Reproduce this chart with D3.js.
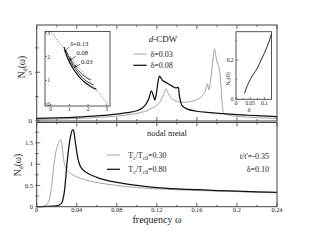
<!DOCTYPE html>
<html>
<head>
<meta charset="utf-8">
<script src="https://cdn.jsdelivr.net/npm/d3@7/dist/d3.min.js"></script>
<style>
  body { margin: 0; background: #fff; }
  svg { display: block; }
  text { font-family: "Liberation Serif", "DejaVu Serif", serif; fill: #222; }
</style>
</head>
<body>
<script>
// ---- data ----
const freqTicks = [0, 0.04, 0.08, 0.12, 0.16, 0.2, 0.24];
const topYTicks = [0, 5];
const botYTicks = [0, 0.5, 1, 1.5];

// upper panel: d-CDW, [omega, N_d]
const cdw003 = [[0,0.15],[0.02,0.2],[0.04,0.26],[0.06,0.36],[0.08,0.5],[0.09,0.62],[0.1,0.78],[0.105,0.9],
  [0.11,1.05],[0.115,1.3],[0.12,1.6],[0.124,2.1],[0.127,2.8],[0.129,3.3],[0.131,2.9],[0.134,2.4],[0.138,2.1],
  [0.142,1.95],[0.148,1.92],[0.154,2.0],[0.16,2.2],[0.165,2.55],[0.168,2.95],[0.1705,3.8],[0.172,3.2],
  [0.174,4.5],[0.176,6.3],[0.1775,7.4],[0.179,6.6],[0.181,5.8],[0.1825,5.3],[0.184,3.6],[0.1855,1.5],
  [0.187,0.8],[0.19,0.62],[0.2,0.48],[0.21,0.4],[0.22,0.34],[0.23,0.3],[0.24,0.26]];
const cdw008 = [[0,0.27],[0.02,0.32],[0.04,0.4],[0.06,0.52],[0.08,0.7],[0.09,0.85],[0.1,1.05],[0.105,1.3],
  [0.109,1.7],[0.112,2.3],[0.1145,3.1],[0.1165,2.6],[0.118,2.15],[0.1195,2.8],[0.121,3.9],[0.1225,4.6],
  [0.125,4.25],[0.13,3.9],[0.135,3.6],[0.139,3.4],[0.1415,3.45],[0.1425,2.6],[0.1435,2.1],[0.145,1.6],
  [0.15,1.25],[0.16,1.0],[0.17,0.88],[0.18,0.8],[0.19,0.72],[0.2,0.65],[0.21,0.59],[0.22,0.54],[0.23,0.49],[0.24,0.45]];

// lower panel: nodal metal
const nodal030 = [[0,0],[0.005,0.005],[0.009,0.03],[0.011,0.08],[0.013,0.2],[0.015,0.5],[0.017,0.95],
  [0.019,1.27],[0.021,1.45],[0.023,1.56],[0.024,1.58],[0.025,1.5],[0.026,1.3],[0.027,1.1],[0.029,0.92],
  [0.032,0.82],[0.036,0.75],[0.04,0.7],[0.05,0.62],[0.06,0.57],[0.08,0.5],[0.1,0.45],[0.12,0.42],
  [0.14,0.4],[0.16,0.38],[0.18,0.37],[0.2,0.355],[0.22,0.34],[0.24,0.33]];
const nodal080 = [[0,0],[0.01,0.005],[0.02,0.02],[0.024,0.06],[0.026,0.15],[0.028,0.42],[0.03,0.96],
  [0.032,1.38],[0.034,1.68],[0.036,1.81],[0.037,1.78],[0.038,1.62],[0.039,1.45],[0.041,1.15],[0.043,0.98],
  [0.046,0.87],[0.05,0.8],[0.06,0.69],[0.08,0.57],[0.1,0.5],[0.12,0.45],[0.14,0.42],[0.16,0.4],
  [0.18,0.38],[0.2,0.365],[0.22,0.35],[0.24,0.335]];

// left inset
const insetTicks = [0, 1, 2, 3];
const insetDiag = [[0,3.05],[3.05,0]];
const inset013 = [[0.72,2.4],[0.85,2.05],[1.0,1.78],[1.2,1.5],[1.4,1.27],[1.6,1.08],[1.8,0.93],[2.0,0.81],[2.2,0.71],[2.45,0.62]];
const inset008 = [[0.82,2.25],[1.0,1.92],[1.2,1.62],[1.4,1.4],[1.6,1.2],[1.8,1.04],[2.0,0.92],[2.3,0.8]];
const inset003 = [[1.0,2.0],[1.2,1.72],[1.4,1.5],[1.6,1.32],[1.8,1.18],[2.0,1.08],[2.15,1.02]];
const insetLabels = [
  { text: "δ=0.13", at: [1.03, 2.47], from: [1.0, 2.42], to: [0.74, 2.2] },
  { text: "0.08",   at: [1.38, 2.05], from: [1.34, 2.02], to: [1.0, 1.84] },
  { text: "0.03",   at: [1.62, 1.68], from: [1.58, 1.68], to: [1.27, 1.56] }
];

// right inset: N_d(0) vs doping
const nd0 = [[0.03,0.03],[0.04,0.07],[0.05,0.1],[0.06,0.125],[0.075,0.158],[0.09,0.205],[0.1,0.235],[0.11,0.27],[0.12,0.31],[0.125,0.335]];

// ---- drawing ----
const W = 314, H = 243;
const GRAY = "#9a9a9a", FRAME = "#444";
const svg = d3.select("body").append("svg").attr("width", W).attr("height", H);

const x = d3.scaleLinear().domain([0, 0.24]).range([36.7, 277]);
const yTop = d3.scaleLinear().domain([0, 9.85]).range([121, 25]);
const yBot = d3.scaleLinear().domain([0, 1.98]).range([206.7, 122.5]);

function frame(g, x0, x1, y0, y1, w) {
  g.append("rect").attr("x", x0).attr("y", y0).attr("width", x1 - x0).attr("height", y1 - y0)
    .attr("fill", "none").attr("stroke", FRAME).attr("stroke-width", w || 1);
}

function xTicks(g, sx, yEdge, dir, major, minor) {
  d3.range(0, 0.2401, 0.02).forEach(v => {
    const isMajor = Math.abs(v / 0.04 - Math.round(v / 0.04)) < 1e-6;
    const len = isMajor ? major : minor;
    g.append("line").attr("x1", sx(v)).attr("x2", sx(v))
      .attr("y1", yEdge).attr("y2", yEdge + dir * len)
      .attr("stroke", FRAME).attr("stroke-width", 0.8);
  });
}

function yTicks(g, sy, step, max, xEdge) {
  d3.range(0, max + 1e-9, step / 2).forEach((v, i) => {
    const len = i % 2 === 0 ? 3.5 : 2;
    g.append("line").attr("x1", xEdge - 1.5).attr("x2", xEdge + len)
      .attr("y1", sy(v)).attr("y2", sy(v))
      .attr("stroke", FRAME).attr("stroke-width", 0.8);
  });
}

const lineTop = d3.line().x(d => x(d[0])).y(d => yTop(d[1])).curve(d3.curveMonotoneX);
const lineBot = d3.line().x(d => x(d[0])).y(d => yBot(d[1])).curve(d3.curveMonotoneX);

// upper panel
const upper = svg.append("g");
upper.append("path").datum(cdw003).attr("d", lineTop).attr("fill", "none").attr("stroke", GRAY).attr("stroke-width", 0.9);
upper.append("path").datum(cdw008).attr("d", lineTop).attr("fill", "none").attr("stroke", "#111").attr("stroke-width", 1.25);
frame(upper, 36.7, 277, 25, 121);
xTicks(upper, x, 121, -1, 4, 2);
xTicks(upper, x, 25, 1, 4, 2);
yTicks(upper, yTop, 5, 9.85, 36.7);
topYTicks.forEach(v => upper.append("text").attr("x", 32).attr("y", yTop(v) + 2.3)
  .attr("text-anchor", "end").attr("font-size", 7).text(v));

// lower panel
const lower = svg.append("g");
lower.append("path").datum(nodal030).attr("d", lineBot).attr("fill", "none").attr("stroke", GRAY).attr("stroke-width", 0.9);
lower.append("path").datum(nodal080).attr("d", lineBot).attr("fill", "none").attr("stroke", "#111").attr("stroke-width", 1.25);
frame(lower, 36.7, 277, 122.5, 206.7);
xTicks(lower, x, 206.7, -1, 4, 2);
xTicks(lower, x, 122.5, 1, 4, 2);
yTicks(lower, yBot, 0.5, 1.98, 36.7);
botYTicks.forEach(v => lower.append("text").attr("x", 33).attr("y", yBot(v) + 2.3)
  .attr("text-anchor", "end").attr("font-size", 6.5).text(v));
freqTicks.forEach(v => lower.append("text").attr("x", x(v)).attr("y", 212)
  .attr("text-anchor", "middle").attr("font-size", 6.3).text(v));
lower.append("text").attr("x", 157).attr("y", 222.5).attr("text-anchor", "middle")
  .attr("font-size", 10).text("frequency ω");

// y labels N_d(ω)
function ndLabel(cx, cy, size) {
  const t = svg.append("text").attr("transform", `translate(${cx},${cy}) rotate(-90)`)
    .attr("text-anchor", "middle").attr("font-size", size);
  t.append("tspan").text("N");
  t.append("tspan").attr("font-size", size * 0.65).attr("dy", size * 0.25).text("d");
  t.append("tspan").attr("dy", -size * 0.25).text("(ω)");
}
ndLabel(25, 67, 9.5);
ndLabel(21, 165, 9.5);

// upper legend
svg.append("text").attr("x", 163).attr("y", 42).attr("text-anchor", "middle")
  .attr("font-size", 9).attr("font-family", "Liberation Sans, Arial, sans-serif")
  .call(t => { t.append("tspan").attr("font-style", "italic").text("d"); t.append("tspan").text("-CDW"); });
[[GRAY, 0.9, "δ=0.03", 54], ["#111", 1.25, "δ=0.08", 65.3]].forEach(([c, w, label, yy]) => {
  svg.append("line").attr("x1", 133.3).attr("x2", 146.7).attr("y1", yy).attr("y2", yy)
    .attr("stroke", c).attr("stroke-width", w);
  svg.append("text").attr("x", 150.5).attr("y", yy + 3).attr("font-size", 8).text(label);
});

// lower legend
svg.append("text").attr("x", 167).attr("y", 135.5).attr("text-anchor", "middle").attr("font-size", 8.5).text("nodal metal");
[[GRAY, 0.9, "0.30", 155], ["#111", 1.25, "0.80", 169.3]].forEach(([c, w, val, yy]) => {
  svg.append("line").attr("x1", 107).attr("x2", 120).attr("y1", yy).attr("y2", yy)
    .attr("stroke", c).attr("stroke-width", w);
  const t = svg.append("text").attr("x", 128.3).attr("y", yy + 3).attr("font-size", 8);
  t.append("tspan").text("T");
  t.append("tspan").attr("font-size", 5.5).attr("dy", 1.8).text("c");
  t.append("tspan").attr("dy", -1.8).text("/T");
  t.append("tspan").attr("font-size", 5.5).attr("dy", 1.8).text("c0");
  t.append("tspan").attr("dy", -1.8).text("=" + val);
});
svg.append("text").attr("x", 269).attr("y", 159).attr("text-anchor", "end").attr("font-size", 8).text("t/t'=-0.35");
svg.append("text").attr("x", 269).attr("y", 171.5).attr("text-anchor", "end").attr("font-size", 8).text("δ=0.10");

// left inset
const ix = d3.scaleLinear().domain([0, 3]).range([50.7, 106.7]);
const iy = d3.scaleLinear().domain([0, 3]).range([104, 33]);
const ins = svg.append("g");
ins.append("rect").attr("x", 45).attr("y", 31.5).attr("width", 65).attr("height", 74.5).attr("fill", "#fff");
const iline = d3.line().x(d => ix(d[0])).y(d => iy(d[1])).curve(d3.curveMonotoneX);
ins.append("path").datum(insetDiag).attr("d", d3.line().x(d => ix(d[0])).y(d => iy(d[1])))
  .attr("stroke", "#333").attr("stroke-width", 0.8).attr("stroke-dasharray", "0.8,1.6").attr("fill", "none");
ins.append("path").datum(inset003).attr("d", iline).attr("fill", "none").attr("stroke", "#222").attr("stroke-width", 0.8);
ins.append("path").datum(inset008).attr("d", iline).attr("fill", "none").attr("stroke", "#222").attr("stroke-width", 0.9);
ins.append("path").datum(inset013).attr("d", iline).attr("fill", "none").attr("stroke", "#111").attr("stroke-width", 1.2);
frame(ins, 45, 110, 31.5, 106, 0.9);
insetTicks.forEach(v => {
  ins.append("line").attr("x1", ix(v)).attr("x2", ix(v)).attr("y1", 106).attr("y2", 104).attr("stroke", FRAME).attr("stroke-width", 0.7);
  ins.append("line").attr("x1", 45).attr("x2", 47).attr("y1", iy(v)).attr("y2", iy(v)).attr("stroke", FRAME).attr("stroke-width", 0.7);
  ins.append("text").attr("x", ix(v)).attr("y", 110.8).attr("text-anchor", "middle").attr("font-size", 5.5).text(v);
  ins.append("text").attr("x", 48.5).attr("y", iy(v) + 1.9).attr("text-anchor", "middle").attr("font-size", 5.5).text(v);
});
svg.append("defs").append("marker").attr("id", "ah").attr("viewBox", "0 0 10 10")
  .attr("refX", 9).attr("refY", 5).attr("markerWidth", 4).attr("markerHeight", 4).attr("orient", "auto")
  .append("path").attr("d", "M0,0L10,5L0,10z").attr("fill", "#111");
insetLabels.forEach(l => {
  ins.append("text").attr("x", ix(l.at[0])).attr("y", iy(l.at[1])).attr("font-size", 6.6).text(l.text);
  ins.append("line").attr("x1", ix(l.from[0])).attr("y1", iy(l.from[1]))
    .attr("x2", ix(l.to[0])).attr("y2", iy(l.to[1]))
    .attr("stroke", "#111").attr("stroke-width", 0.6).attr("marker-end", "url(#ah)");
});

// right inset
const rx = d3.scaleLinear().domain([0, 0.125]).range([236, 271.5]);
const ry = d3.scaleLinear().domain([0, 0.344]).range([99.3, 31.7]);
const rin = svg.append("g");
rin.append("rect").attr("x", 236).attr("y", 31.7).attr("width", 35.5).attr("height", 67.6).attr("fill", "#fff");
rin.append("path").datum(nd0).attr("d", d3.line().x(d => rx(d[0])).y(d => ry(d[1])).curve(d3.curveMonotoneX))
  .attr("fill", "none").attr("stroke", "#111").attr("stroke-width", 0.9);
frame(rin, 236, 271.5, 31.7, 99.3, 0.9);
d3.range(0, 0.1251, 0.025).forEach((v, i) => {
  rin.append("line").attr("x1", rx(v)).attr("x2", rx(v)).attr("y1", 99.3).attr("y2", 99.3 - (i % 2 ? 1.2 : 2.2))
    .attr("stroke", FRAME).attr("stroke-width", 0.7);
});
d3.range(0, 0.3401, 0.1).forEach((v, i) => {
  rin.append("line").attr("x1", 236).attr("x2", 236 + (i % 2 ? 1.2 : 2.2)).attr("y1", ry(v)).attr("y2", ry(v))
    .attr("stroke", FRAME).attr("stroke-width", 0.7);
});
[[0, "0"], [0.05, "0.05"], [0.1, "0.1"]].forEach(([v, s]) =>
  rin.append("text").attr("x", rx(v)).attr("y", 104.5).attr("text-anchor", "middle").attr("font-size", 5.5).text(s));
[[0, "0"], [0.2, "0.2"]].forEach(([v, s]) =>
  rin.append("text").attr("x", 233.5).attr("y", ry(v) + 1.9).attr("text-anchor", "end").attr("font-size", 5.5).text(s));
rin.append("text").attr("x", 249).attr("y", 112).attr("text-anchor", "middle").attr("font-size", 6.5).text("δ");
const nl = rin.append("text").attr("transform", "translate(230,79) rotate(-90)").attr("text-anchor", "middle").attr("font-size", 6);
nl.append("tspan").text("N");
nl.append("tspan").attr("font-size", 4.2).attr("dy", 1.4).text("d");
nl.append("tspan").attr("dy", -1.4).text("(0)");
</script>
</body>
</html>
